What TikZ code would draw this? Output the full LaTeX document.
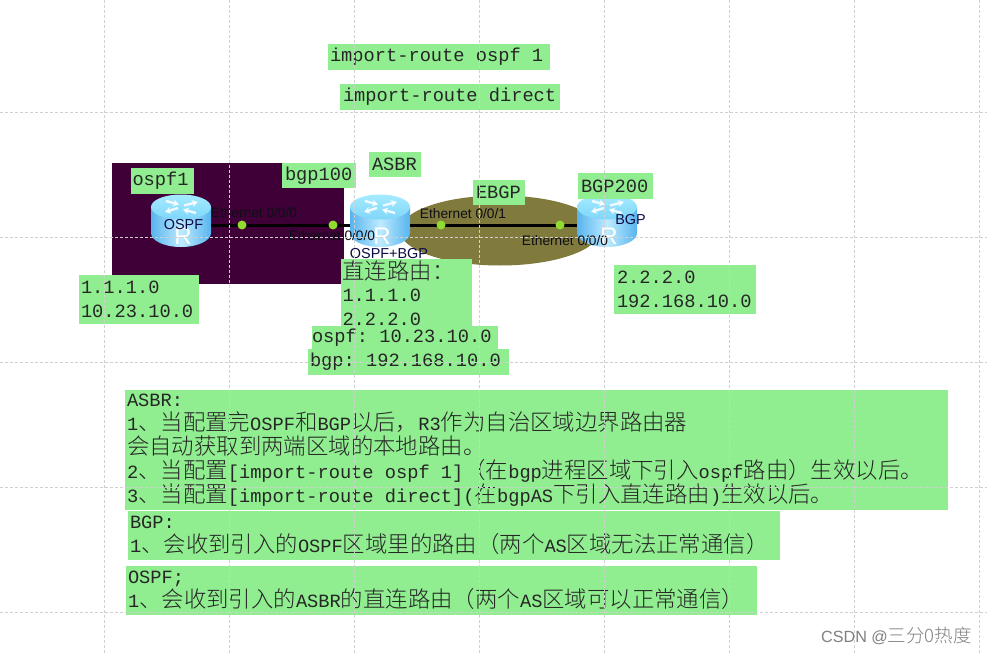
\documentclass[tikz,border=0pt]{standalone}
\usepackage{fontspec}
\setmainfont{Liberation Sans}
\newfontfamily\monof{Liberation Mono}
\newfontfamily\cjk{Noto Sans CJK SC}[UprightFont=* Light]
\usetikzlibrary{arrows.meta}
\definecolor{boxgreen}{HTML}{90EE90}
\definecolor{areapurple}{HTML}{3F0038}
\definecolor{areaolive}{HTML}{807A3C}
\definecolor{gridgrey}{HTML}{D0D0D0}
\definecolor{dotgreen}{HTML}{8FDB2F}
\definecolor{lblink}{HTML}{0E0E16}
\definecolor{routeredge}{HTML}{58B4EE}
\definecolor{routermid}{HTML}{BDEBFF}
\definecolor{routertop}{HTML}{A5EBFF}
\definecolor{routertopb}{HTML}{7FD6FA}
\lineskiplimit=-100pt
\newcommand\zh[1]{{\cjk\fontsize{22.4}{24}\selectfont #1}}
\newcommand\pad[1]{\hspace*{#1pt}}
\newcommand\ms{\hspace*{11.22pt}}
\tikzset{
  x=1pt,y=-1pt,
  greenbox/.style 2 args={fill=boxgreen,anchor=north west,inner sep=0pt,outer sep=0pt,align=left,
    font=\monof\fontsize{18.7}{24}\selectfont,text=black!85,text width=#1 pt,minimum height=#2 pt},
  linklabel/.style={font=\fontsize{13.7}{15}\selectfont,text=lblink,inner sep=0pt},
  routerlabel/.style={font=\fontsize{14.4}{16}\selectfont,text=lblink!80!blue,inner sep=0pt},
  routernode/.style={minimum width=60pt,minimum height=44pt,inner sep=0pt,outer sep=0pt},
  portdot/.style={circle,fill=dotgreen,minimum size=9pt,inner sep=0pt},
  linkline/.style={line width=3pt,black},
  gridline/.style={gridgrey,line width=.7pt,dash pattern=on 3pt off 2pt},
}
\newcommand\routerdraw[1]{%
  \begin{scope}[shift={(#1,221)}]
    \path[left color=routeredge,right color=routeredge,middle color=routermid]
      (-30,-14) -- (-30,12) arc[start angle=180,end angle=0,x radius=30,y radius=14] -- (30,-14) -- cycle;
    \path[top color=routertop,bottom color=routertopb]
      (0,-14) ellipse[x radius=30,y radius=12.5];
    \begin{scope}[white,opacity=.85,line width=2.4pt,-{Stealth[length=6pt,width=7pt]}]
      \draw (-3,-13) -- (-16,-9); \draw (3,-15.5) -- (17,-19);
      \draw (-15,-20) -- (-2,-16.5); \draw (15,-8) -- (2,-11.5);
    \end{scope}
    \node[white,font=\fontsize{24}{24}\selectfont,inner sep=0pt] at (2,15) {R};
  \end{scope}}
\begin{document}
\begin{tikzpicture}
\useasboundingbox (0,0) rectangle (987,655);
\fill[white] (0,0) rectangle (987,655);
% areas
\fill[areapurple] (112,163) rectangle (344,284);
\fill[areaolive] (500,230.5) ellipse[x radius=100,y radius=35];
% routers
\routerdraw{181}
\routerdraw{380}
\routerdraw{607}
\node[routernode] (r1) at (181,225) {};
\node[routernode] (r2) at (380,225) {};
\node[routernode] (r3) at (607,225) {};
% links
\draw[linkline] (r1.east) -- (r2.west);
\draw[linkline] (r2.east) -- (r3.west);
\node[portdot] (d1) at (242,225) {};
\node[portdot] (d2) at (333,225) {};
\node[portdot] (d3) at (441,225) {};
\node[portdot] (d4) at (560,225) {};
% labels
\node[linklabel] (l1) at (254,213) {Ethernet 0/0/0};
\node[linklabel] (l2) at (332,236) {Ethernet 0/0/0};
\node[linklabel] (l3) at (463,214) {Ethernet 0/0/1};
\node[linklabel] (l4) at (565,241) {Ethernet 0/0/0};
\node[routerlabel] (n1) at (183.5,225) {OSPF};
\node[routerlabel] (n2) at (389,254) {OSPF+BGP};
\node[routerlabel] (n3) at (630.5,220) {BGP};
% green boxes
\node[greenbox={222}{26}] (b1) at (328,44) {\pad{2}import-route\ms ospf\ms 1};
\node[greenbox={220}{26}] (b2) at (340,84) {\pad{3}import-route\ms direct};
\node[greenbox={52}{25}] (b3) at (369,152) {\pad{3}ASBR};
\node[greenbox={63}{26}] (b4) at (131,168) {\pad{1.5}ospf1};
\node[greenbox={74}{25}] (b5) at (282,163) {\pad{3}bgp100};
\node[greenbox={120}{49}] (b6) at (79,275) {\pad{2}1.1.1.0\\\pad{2}10.23.10.0};
\node[greenbox={52}{25}] (b7) at (473,180) {\pad{3}EBGP};
\node[greenbox={75}{26}] (b8) at (578,173) {\pad{3}BGP200};
\node[greenbox={142}{49}] (b9) at (614,265) {\pad{3}2.2.2.0\\\pad{3}192.168.10.0};
\node[greenbox={131}{68}] (b10) at (341,259) {\pad{1.5}\zh{直连路由：}\\[-2pt]\pad{1.5}1.1.1.0\\\pad{1.5}2.2.2.0};
\node[greenbox={186}{24}] (b11) at (312,326) {ospf:\ms 10.23.10.0};
\node[greenbox={201}{26}] (b12) at (308,349) {\pad{2}bgp:\ms 192.168.10.0};
\node[greenbox={823}{120}] (b13) at (125,390)
 {\pad{2}ASBR:\\\pad{2}1\zh{、当配置完}OSPF\zh{和}BGP\zh{以后，}R3\zh{作为自治区域边界路由器}\\\pad{2}\zh{会自动获取到两端区域的本地路由。}\\\pad{2}2\zh{、当配置}[import-route\ms ospf\ms 1]\zh{（在}bgp\zh{进程区域下引入}ospf\zh{路由）生效以后。}\\\pad{2}3\zh{、当配置}[import-route\ms direct](\zh{在}bgpAS\zh{下引入直连路由})\zh{生效以后。}};
\node[greenbox={652}{49}] (b14) at (128,511)
 {\pad{2}BGP:\\\pad{2}1\zh{、会收到引入的}OSPF\zh{区域里的路由（两个}AS\zh{区域无法正常通信）}};
\node[greenbox={631}{49}] (b15) at (126,566)
 {\pad{2}OSPF;\\\pad{2}1\zh{、会收到引入的}ASBR\zh{的直连路由（两个}AS\zh{区域可以正常通信）}};
% grid
\foreach \gx in {104,229,354,479,604,729,854,979} \draw[gridline] (\gx,0) -- (\gx,655);
\foreach \gy in {112,237,362,487,612} \draw[gridline] (0,\gy) -- (987,\gy);
% watermark
\node[inner sep=0pt,anchor=east,text=black!50,font=\fontsize{16.2}{18}\selectfont] (wm) at (972,636) {CSDN @{\cjk\fontsize{18.5}{18}\selectfont 三分0热度}};
\end{tikzpicture}
\end{document}
